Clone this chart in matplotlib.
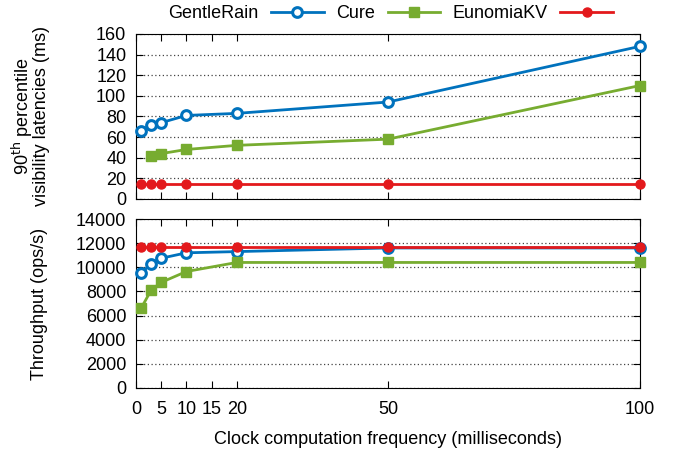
import matplotlib
matplotlib.use('Agg')
from matplotlib import pyplot as plt

plt.rcParams['font.family'] = ['Liberation Sans', 'DejaVu Sans']
plt.rcParams['font.size'] = 13

# clock computation frequency (ms)
freq = [1, 3, 5, 10, 20, 50, 100]
freq_cure = [3, 5, 10, 20, 50, 100]

# 90th percentile visibility latencies (ms)
lat_gentlerain = [66, 72, 74, 81, 83, 94, 148]
lat_cure = [42, 44, 48, 52, 58, 110]
lat_eunomia = [15, 15, 15, 15, 15, 15, 15]

# throughput (ops/s)
thr_gentlerain = [9500, 10300, 10750, 11200, 11300, 11600, 11600]
thr_cure = [6600, 8100, 8750, 9650, 10400, 10400, 10400]
thr_eunomia = [11720, 11720, 11720, 11720, 11720, 11720, 11720]

names = ['GentleRain', 'Cure', 'EunomiaKV']
colors = ['#0072BD', '#77AC30', '#E3191C']

fig = plt.figure(figsize=(6.78, 4.51), dpi=100)
ax1 = fig.add_axes([0.2006, 0.5588, 0.7434, 0.3659])
ax2 = fig.add_axes([0.2006, 0.1397, 0.7434, 0.3747])

def draw(ax, g, c, e):
    h1, = ax.plot(freq, g, color=colors[0], lw=2.0, marker='o', ms=7,
                  mfc='white', mew=2.2, clip_on=False, zorder=3)
    h2, = ax.plot(freq_cure if len(c) == 6 else freq, c, color=colors[1], lw=2.0,
                  marker='s', ms=6.5, clip_on=False, zorder=3)
    h3, = ax.plot(freq, e, color=colors[2], lw=2.0, marker='o', ms=6.5,
                  clip_on=False, zorder=4)
    ax.set_xlim(0, 100)
    ax.set_xticks([0, 5, 10, 15, 20, 50, 100])
    ax.grid(axis='y', linestyle=(0, (1, 2)), color='#444444', lw=0.9)
    ax.tick_params(direction='in', top=True, right=True, length=5, labelsize=13)
    ax.tick_params(axis='y', pad=7)
    ax.tick_params(axis='x', pad=9.5)
    return h1, h2, h3

handles = draw(ax1, lat_gentlerain, lat_cure, lat_eunomia)
ax1.set_ylim(0, 160)
ax1.set_yticks(range(0, 161, 20))
ax1.tick_params(labelbottom=False)
ax1.set_ylabel('90$^{\\mathrm{th}}$ percentile\nvisibility latencies (ms)', fontsize=13,
               linespacing=0.8)
ax1.yaxis.set_label_coords(-0.171, 0.5)

draw(ax2, thr_gentlerain, thr_cure, thr_eunomia)
ax2.set_ylim(0, 14000)
ax2.set_yticks(range(0, 14001, 2000))
ax2.set_ylabel('Throughput (ops/s)', fontsize=13)
ax2.yaxis.set_label_coords(-0.174, 0.5)
ax2.set_xlabel('Clock computation frequency (milliseconds)', fontsize=13, labelpad=9)

fig.legend(handles, names, loc='center', bbox_to_anchor=(0.576, 0.97), ncol=3,
           frameon=False, markerfirst=False, handlelength=2.9, columnspacing=0.7,
           handletextpad=0.7, fontsize=13, borderpad=0.1)

fig.savefig('out.png', dpi=100)
